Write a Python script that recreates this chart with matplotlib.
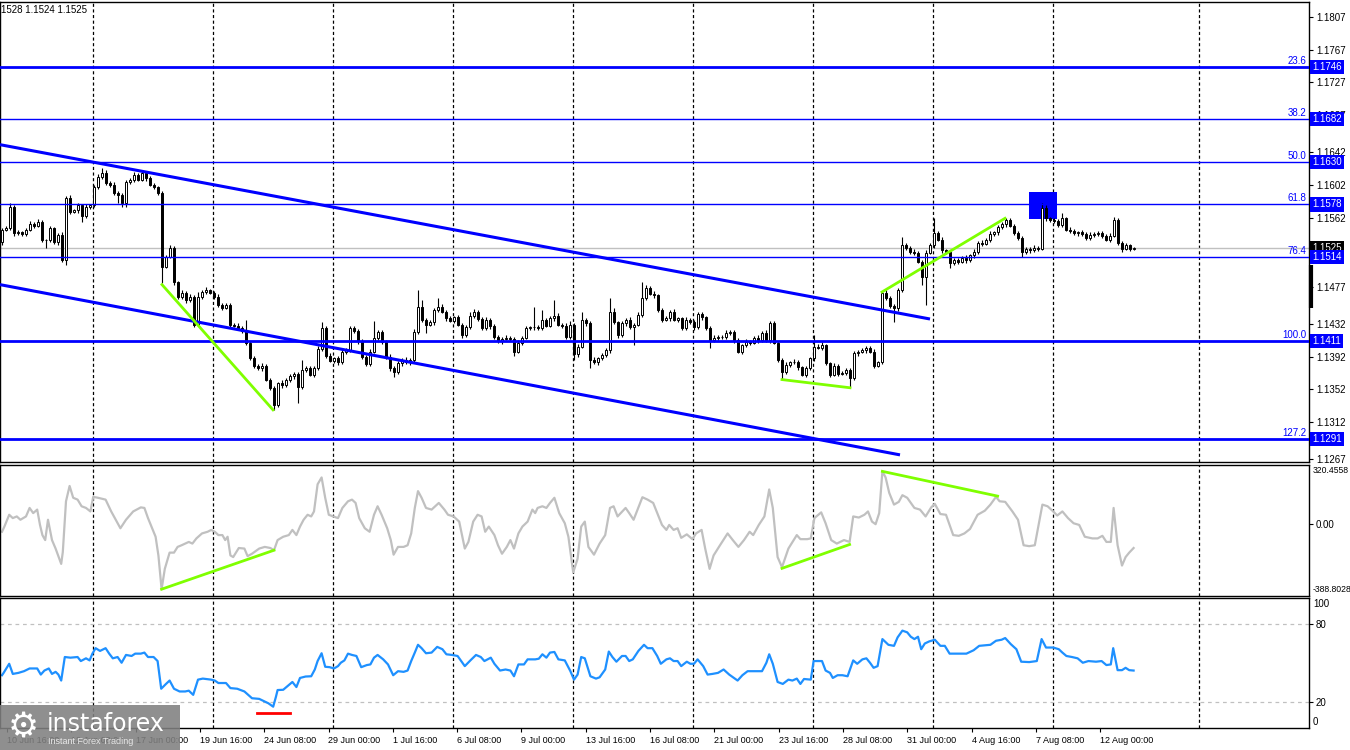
import numpy as np
import matplotlib
matplotlib.use("Agg")
import matplotlib.pyplot as plt
import matplotlib.transforms as mtransforms
from matplotlib.patches import Rectangle

plt.rcParams['font.family'] = ['Liberation Sans', 'DejaVu Sans']

# ---------------- data (EURUSD H4) ----------------
opens = [
    1.1532, 1.1547, 1.1549, 1.1575, 1.1543, 1.1544, 1.1542, 1.1547, 1.1554, 1.1552, 1.1557, 1.1535, 1.1534, 1.1549, 1.1532, 1.1541, 1.1510, 1.1586, 1.1569, 1.1571,
    1.1577, 1.1564, 1.1575, 1.1577, 1.1599, 1.1612, 1.1616, 1.1604, 1.1602, 1.1592, 1.1590, 1.1580, 1.1605, 1.1608, 1.1614, 1.1608, 1.1616, 1.1610, 1.1602, 1.1599,
    1.1592, 1.1502, 1.1514, 1.1525, 1.1483, 1.1465, 1.1470, 1.1461, 1.1465, 1.1431, 1.1465, 1.1471, 1.1473, 1.1470, 1.1465, 1.1455, 1.1452, 1.1455, 1.1431, 1.1430,
    1.1427, 1.1423, 1.1409, 1.1390, 1.1381, 1.1378, 1.1381, 1.1364, 1.1354, 1.1333, 1.1360, 1.1357, 1.1364, 1.1368, 1.1371, 1.1355, 1.1376, 1.1378, 1.1370, 1.1378,
    1.1401, 1.1427, 1.1393, 1.1387, 1.1390, 1.1385, 1.1398, 1.1400, 1.1427, 1.1423, 1.1411, 1.1392, 1.1383, 1.1398, 1.1415, 1.1422, 1.1410, 1.1392, 1.1378, 1.1373,
    1.1384, 1.1388, 1.1385, 1.1388, 1.1422, 1.1453, 1.1437, 1.1431, 1.1434, 1.1449, 1.1453, 1.1447, 1.1439, 1.1436, 1.1440, 1.1431, 1.1418, 1.1428, 1.1442, 1.1447,
    1.1438, 1.1427, 1.1437, 1.1430, 1.1416, 1.1411, 1.1414, 1.1415, 1.1414, 1.1398, 1.1409, 1.1415, 1.1427, 1.1428, 1.1428, 1.1427, 1.1437, 1.1430, 1.1439, 1.1442,
    1.1431, 1.1430, 1.1416, 1.1431, 1.1395, 1.1404, 1.1437, 1.1433, 1.1388, 1.1385, 1.1390, 1.1394, 1.1400, 1.1447, 1.1434, 1.1418, 1.1433, 1.1437, 1.1428, 1.1431,
    1.1443, 1.1464, 1.1476, 1.1469, 1.1467, 1.1449, 1.1437, 1.1439, 1.1447, 1.1437, 1.1439, 1.1427, 1.1437, 1.1434, 1.1428, 1.1444, 1.1440, 1.1427, 1.1412, 1.1415,
    1.1416, 1.1416, 1.1421, 1.1422, 1.1412, 1.1398, 1.1406, 1.1410, 1.1409, 1.1415, 1.1412, 1.1421, 1.1412, 1.1433, 1.1409, 1.1388, 1.1373, 1.1382, 1.1385, 1.1386,
    1.1379, 1.1370, 1.1378, 1.1390, 1.1404, 1.1403, 1.1406, 1.1384, 1.1370, 1.1381, 1.1371, 1.1372, 1.1376, 1.1366, 1.1396, 1.1398, 1.1400, 1.1403, 1.1398, 1.1381,
    1.1385, 1.1470, 1.1464, 1.1454, 1.1451, 1.1473, 1.1528, 1.1525, 1.1520, 1.1519, 1.1508, 1.1489, 1.1519, 1.1528, 1.1543, 1.1535, 1.1522, 1.1520, 1.1506, 1.1510,
    1.1508, 1.1513, 1.1510, 1.1516, 1.1520, 1.1531, 1.1530, 1.1535, 1.1542, 1.1544, 1.1550, 1.1554, 1.1559, 1.1552, 1.1543, 1.1537, 1.1520, 1.1524, 1.1522, 1.1525,
    1.1524, 1.1574, 1.1561, 1.1559, 1.1558, 1.1553, 1.1561, 1.1547, 1.1546, 1.1543, 1.1544, 1.1542, 1.1537, 1.1541, 1.1542, 1.1543, 1.1540, 1.1535, 1.1540, 1.1559,
    1.1531, 1.1524, 1.1528, 1.1524]

closes = [
    1.1547, 1.1549, 1.1575, 1.1543, 1.1544, 1.1542, 1.1547, 1.1554, 1.1552, 1.1557, 1.1535, 1.1534, 1.1549, 1.1532, 1.1541, 1.1510, 1.1586, 1.1569, 1.1571, 1.1577,
    1.1564, 1.1575, 1.1577, 1.1599, 1.1612, 1.1616, 1.1604, 1.1602, 1.1592, 1.1590, 1.1580, 1.1605, 1.1608, 1.1614, 1.1608, 1.1616, 1.1610, 1.1602, 1.1599, 1.1592,
    1.1502, 1.1514, 1.1525, 1.1483, 1.1465, 1.1470, 1.1461, 1.1465, 1.1431, 1.1465, 1.1471, 1.1473, 1.1470, 1.1465, 1.1455, 1.1452, 1.1455, 1.1431, 1.1430, 1.1427,
    1.1423, 1.1409, 1.1390, 1.1381, 1.1378, 1.1381, 1.1364, 1.1354, 1.1333, 1.1360, 1.1357, 1.1364, 1.1368, 1.1371, 1.1355, 1.1376, 1.1378, 1.1370, 1.1378, 1.1401,
    1.1427, 1.1393, 1.1387, 1.1390, 1.1385, 1.1398, 1.1400, 1.1427, 1.1423, 1.1411, 1.1392, 1.1383, 1.1398, 1.1415, 1.1422, 1.1410, 1.1392, 1.1378, 1.1373, 1.1384,
    1.1388, 1.1385, 1.1388, 1.1422, 1.1453, 1.1437, 1.1431, 1.1434, 1.1449, 1.1453, 1.1447, 1.1439, 1.1436, 1.1440, 1.1431, 1.1418, 1.1428, 1.1442, 1.1447, 1.1438,
    1.1427, 1.1437, 1.1430, 1.1416, 1.1411, 1.1414, 1.1415, 1.1414, 1.1398, 1.1409, 1.1415, 1.1427, 1.1428, 1.1428, 1.1427, 1.1437, 1.1430, 1.1439, 1.1442, 1.1431,
    1.1430, 1.1416, 1.1431, 1.1395, 1.1404, 1.1437, 1.1433, 1.1388, 1.1385, 1.1390, 1.1394, 1.1400, 1.1447, 1.1434, 1.1418, 1.1433, 1.1437, 1.1428, 1.1431, 1.1443,
    1.1464, 1.1476, 1.1469, 1.1467, 1.1449, 1.1437, 1.1439, 1.1447, 1.1437, 1.1439, 1.1427, 1.1437, 1.1434, 1.1428, 1.1444, 1.1440, 1.1427, 1.1412, 1.1415, 1.1416,
    1.1416, 1.1421, 1.1422, 1.1412, 1.1398, 1.1406, 1.1410, 1.1409, 1.1415, 1.1412, 1.1421, 1.1412, 1.1433, 1.1409, 1.1388, 1.1373, 1.1382, 1.1385, 1.1386, 1.1379,
    1.1370, 1.1378, 1.1390, 1.1404, 1.1403, 1.1406, 1.1384, 1.1370, 1.1381, 1.1371, 1.1372, 1.1376, 1.1366, 1.1396, 1.1398, 1.1400, 1.1403, 1.1398, 1.1381, 1.1385,
    1.1470, 1.1464, 1.1454, 1.1451, 1.1473, 1.1528, 1.1525, 1.1520, 1.1519, 1.1508, 1.1489, 1.1519, 1.1528, 1.1543, 1.1535, 1.1522, 1.1520, 1.1506, 1.1510, 1.1508,
    1.1513, 1.1510, 1.1516, 1.1520, 1.1531, 1.1530, 1.1535, 1.1542, 1.1544, 1.1550, 1.1554, 1.1559, 1.1552, 1.1543, 1.1537, 1.1520, 1.1524, 1.1522, 1.1525, 1.1524,
    1.1574, 1.1561, 1.1559, 1.1558, 1.1553, 1.1561, 1.1547, 1.1546, 1.1543, 1.1544, 1.1542, 1.1537, 1.1541, 1.1542, 1.1543, 1.1540, 1.1535, 1.1540, 1.1559, 1.1531,
    1.1524, 1.1528, 1.1524, 1.1525]

# wick lengths in pips above / below the candle body
upper_wick = [
    2, 3, 5, 2, 3, 1, 2, 4, 2, 3, 2, 1, 3, 2, 2, 3, 2, 3, 2, 3,
    2, 3, 2, 3, 3, 6, 4, 2, 3, 2, 2, 3, 2, 3, 2, 4, 2, 3, 2, 2,
    2, 2, 4, 2, 2, 3, 2, 3, 2, 6, 2, 4, 2, 2, 3, 2, 3, 2, 2, 3,
    2, 14, 2, 3, 2, 3, 2, 2, 2, 1, 3, 2, 3, 2, 2, 12, 3, 2, 3, 4,
    7, 2, 3, 2, 3, 4, 2, 3, 2, 3, 2, 2, 3, 20, 3, 2, 2, 3, 2, 3,
    2, 3, 2, 4, 20, 8, 2, 3, 2, 11, 3, 2, 3, 2, 3, 2, 3, 4, 3, 2,
    2, 3, 2, 2, 3, 2, 3, 2, 2, 3, 2, 3, 2, 25, 3, 12, 2, 3, 19, 3,
    2, 3, 4, 2, 3, 10, 2, 2, 3, 2, 3, 3, 17, 4, 2, 3, 2, 3, 2, 3,
    19, 4, 2, 3, 2, 2, 3, 2, 3, 2, 2, 3, 2, 3, 2, 3, 2, 2, 3, 2,
    2, 3, 2, 2, 3, 2, 3, 2, 2, 3, 2, 3, 3, 2, 2, 2, 3, 2, 3, 2,
    2, 3, 2, 14, 3, 4, 2, 2, 3, 2, 3, 2, 2, 3, 2, 3, 2, 2, 3, 2,
    1, 3, 2, 2, 3, 10, 3, 2, 3, 2, 2, 3, 3, 18, 2, 3, 2, 2, 3, 2,
    2, 3, 2, 3, 2, 3, 2, 3, 2, 3, 2, 2, 3, 2, 2, 3, 2, 2, 3, 2,
    6, 3, 2, 3, 2, 6, 2, 3, 2, 2, 3, 2, 3, 2, 2, 3, 2, 3, 4, 2,
    2, 3, 2, 1]

lower_wick = [
    3, 2, 2, 3, 2, 3, 2, 2, 3, 2, 3, 9, 2, 2, 3, 2, 6, 3, 2, 3,
    7, 2, 3, 2, 2, 3, 2, 3, 2, 10, 5, 5, 2, 3, 2, 2, 3, 2, 2, 3,
    20, 2, 2, 3, 3, 2, 3, 2, 3, 2, 3, 2, 2, 3, 2, 3, 2, 3, 2, 3,
    2, 3, 2, 3, 2, 3, 2, 3, 6, 2, 3, 2, 3, 3, 20, 2, 3, 2, 3, 2,
    2, 3, 2, 3, 3, 2, 3, 2, 2, 3, 3, 2, 3, 2, 3, 2, 3, 3, 6, 2,
    3, 2, 3, 2, 2, 3, 10, 2, 3, 2, 2, 3, 2, 3, 2, 3, 2, 2, 3, 2,
    3, 2, 4, 3, 2, 3, 2, 3, 5, 2, 3, 2, 2, 3, 2, 3, 2, 2, 3, 2,
    3, 2, 3, 7, 3, 2, 3, 10, 2, 3, 2, 2, 3, 2, 3, 2, 3, 2, 22, 2,
    2, 3, 2, 3, 2, 3, 2, 3, 2, 3, 2, 3, 2, 3, 2, 3, 2, 9, 2, 3,
    2, 3, 2, 3, 2, 3, 2, 3, 2, 3, 2, 2, 3, 2, 3, 10, 2, 3, 2, 3,
    2, 3, 2, 3, 2, 3, 2, 3, 2, 3, 2, 3, 12, 2, 3, 2, 3, 2, 3, 2,
    2, 3, 2, 17, 3, 2, 3, 2, 3, 2, 10, 34, 2, 3, 2, 3, 2, 6, 2, 3,
    2, 3, 2, 3, 2, 3, 2, 3, 2, 3, 2, 3, 2, 2, 3, 6, 2, 3, 2, 3,
    2, 3, 2, 3, 2, 3, 2, 3, 2, 3, 2, 3, 2, 3, 2, 3, 2, 3, 2, 3,
    4, 2, 3, 2]

current_price = 1.1525
price_ticks = [1.1807, 1.1767, 1.1727, 1.1687, 1.1642, 1.1602, 1.1562, 1.1522,
               1.1477, 1.1432, 1.1392, 1.1352, 1.1312, 1.1267]
hidden_ticks = [1.1522]   # covered by the price boxes in the original

fib_levels = [1.1746, 1.1682, 1.1630, 1.1578, 1.1514, 1.1411, 1.1291]
fib_names = ["23.6", "38.2", "50.0", "61.8", "76.4", "100.0", "127.2"]

# trend channel and divergence lines: (bar positions, prices)
channel_top = ([-0.5, 232.0], [1.1651, 1.1438])
channel_bottom = ([-0.5, 224.5], [1.1480, 1.1272])
price_green = [([40.0, 67.75], [1.1480, 1.1327]),
               ([195.0, 212.0], [1.1364, 1.1354]),
               ([220.0, 250.75], [1.1471, 1.1561])]
box_bars = [256.75, 263.75]
box_prices = [1.1560, 1.1593]

# CCI (gray)
cci_bars = [
    0, 0.6, 1.8, 2.7, 3.7, 4.6, 6.0, 6.9, 7.8, 8.8,
    9.5, 10.1, 10.8, 11.5, 12.5, 13.4, 14.8, 15.2, 16.0, 16.9,
    17.8, 18.9, 19.9, 21.0, 22.1, 22.8, 24.0, 25.9, 27.3, 28.2,
    29.6, 31.0, 32.8, 34.7, 35.6, 36.5, 38.4, 39.1, 39.9, 40.7,
    41.9, 43.0, 43.9, 44.9, 45.8, 46.7, 47.6, 48.6, 50.0, 51.4,
    52.3, 53.2, 54.1, 55.1, 55.8, 56.4, 57.1, 57.8, 59.2, 60.6,
    61.4, 62.5, 64.3, 65.7, 67.1, 68.0, 68.9, 70.3, 71.7, 72.6,
    73.6, 74.5, 75.4, 76.4, 77.3, 78.0, 78.9, 79.9, 80.8, 81.7,
    82.8, 84.0, 85.1, 86.5, 87.5, 88.4, 89.3, 90.7, 91.9, 93.0,
    93.9, 94.9, 96.3, 97.2, 97.9, 99.0, 100.4, 101.4, 102.3, 103.2,
    104.0, 104.9, 106.0, 107.4, 109.2, 110.6, 111.5, 112.9, 114.3, 115.7,
    116.6, 117.8, 118.9, 119.9, 120.8, 121.7, 123.1, 124.0, 125.0, 126.2,
    127.1, 128.0, 129.1, 130.1, 131.4, 132.6, 133.3, 133.9, 135.1, 136.1,
    137.0, 138.1, 139.3, 140.7, 141.6, 142.8, 143.9, 144.8, 145.7, 146.6,
    148.0, 149.4, 150.8, 152.0, 152.9, 153.9, 155.9, 156.8, 157.9, 160.1,
    161.4, 162.8, 165.0, 166.1, 166.8, 167.9, 168.9, 169.8, 171.2, 172.6,
    173.5, 174.9, 175.8, 176.9, 177.9, 179.5, 181.4, 182.7, 184.1, 185.5,
    186.9, 187.8, 189.2, 190.6, 191.8, 192.7, 193.9, 195.0, 196.6, 198.7,
    199.6, 201.3, 202.2, 203.1, 204.8, 205.9, 207.3, 208.7, 210.5, 211.9,
    212.8, 214.2, 215.6, 216.5, 217.5, 218.4, 219.3, 220.1, 220.9, 221.8,
    223.0, 224.2, 225.1, 226.3, 228.1, 229.5, 230.9, 232.3, 233.2, 234.6,
    236.0, 237.8, 239.2, 240.6, 242.0, 243.9, 245.7, 247.1, 248.5, 249.4,
    250.8, 252.6, 254.0, 255.4, 256.8, 258.2, 260.1, 261.4, 262.8, 263.8,
    265.1, 266.5, 267.9, 269.3, 270.7, 272.6, 273.9, 275.1, 276.1, 277.2,
    277.9, 278.9, 280.0, 280.9, 281.8, 282.9]
cci_vals = [
    -41, -13, 51, 33, 42, 24, 42, 88, 60, 79,
    -4, -59, -86, 24, -86, -132, -215, -151, 124, 207,
    143, 133, 97, 88, 69, 148, 143, 133, 69, 33,
    -22, 24, 69, 91, 88, 33, -68, -169, -352, -242,
    -154, -154, -123, -114, -105, -96, -105, -77, -50, -41,
    -31, -41, -59, -59, -86, -68, -169, -178, -129, -132,
    -173, -160, -132, -123, -129, -141, -86, -68, -59, -31,
    -59, -13, 24, 51, 42, 69, 216, 253, 143, 51,
    42, 33, 88, 124, 133, 115, 33, -22, -41, 51,
    97, 51, -22, -86, -165, -123, -123, -114, -50, 88,
    179, 143, 88, 79, 115, 79, 51, 42, 14, -132,
    -96, 14, 51, 42, -41, -13, -59, -114, -160, -123,
    -86, -132, -50, -13, 14, 79, 60, 88, 97, 88,
    115, 143, 60, 5, -68, -261, -187, -13, 14, -123,
    -165, -105, -59, 88, 97, 42, 88, 60, 24, 146,
    133, 115, -4, -31, -4, -31, -22, -74, -55, -81,
    -50, -31, -132, -242, -169, -114, -50, -86, -123, -86,
    -41, -59, -4, 42, 188, 88, -178, -233, -132, -59,
    -81, -81, -77, 33, 64, 5, -86, -105, -86, -96,
    42, 36, 51, 69, 14, 0, 60, 286, 253, 170,
    106, 121, 157, 143, 88, 79, 42, 91, 110, 55,
    51, -59, -63, -50, -26, 51, 73, 106, 148, 124,
    121, 69, 24, -114, -119, -114, 106, 97, 69, 47,
    69, 33, 5, -4, -68, -77, -77, -63, -96, -96,
    88, -114, -224, -178, -154, -129]
cci_top, cci_bottom = 320.4558, -388.8028
cci_green = [([39.9, 68.0], [-352, -141]),
             ([195.0, 211.9], [-239, -110]),
             ([220.1, 248.9], [286, 152])]

# RSI (blue)
rsi_bars = [
    0, 0.4, 1.8, 2.7, 4.1, 5.5, 6.9, 8.8, 9.7, 10.6,
    11.7, 12.5, 13.4, 14.1, 14.8, 15.7, 17.1, 18.9, 19.7, 21.0,
    21.9, 22.6, 23.4, 24.5, 25.9, 26.8, 27.7, 28.9, 29.9, 31.0,
    32.4, 33.3, 34.7, 35.6, 36.5, 37.9, 38.9, 39.8, 41.0, 41.9,
    43.0, 44.4, 45.8, 46.7, 47.8, 49.0, 50.2, 52.3, 53.2, 54.1,
    55.1, 56.0, 57.1, 58.8, 60.6, 62.5, 64.3, 65.7, 66.6, 67.8,
    68.5, 68.9, 70.3, 71.3, 72.6, 73.6, 74.5, 75.9, 77.3, 78.2,
    78.9, 79.9, 80.8, 81.9, 83.0, 84.0, 84.7, 85.6, 86.5, 87.5,
    88.6, 89.8, 91.2, 92.1, 93.0, 93.9, 95.3, 96.5, 97.8, 99.0,
    100.4, 101.4, 102.3, 103.2, 104.0, 104.9, 106.0, 107.4, 108.8, 110.1,
    111.1, 112.5, 113.9, 114.8, 115.7, 117.1, 118.5, 119.7, 120.6, 122.2,
    123.1, 124.5, 125.9, 127.1, 128.0, 129.1, 130.5, 131.4, 133.3, 134.2,
    135.1, 136.1, 137.0, 138.1, 139.1, 140.7, 142.1, 143.0, 143.9, 144.8,
    145.7, 147.1, 148.5, 149.4, 150.8, 151.7, 152.6, 153.6, 155.0, 155.9,
    156.8, 157.7, 159.1, 160.5, 161.4, 162.6, 163.8, 164.7, 166.1, 167.0,
    167.9, 168.9, 169.8, 171.2, 172.1, 173.0, 173.9, 175.3, 176.4, 177.6,
    179.0, 180.4, 181.8, 183.9, 185.1, 186.4, 188.3, 190.0, 191.1, 191.8,
    192.7, 193.9, 195.2, 196.6, 197.6, 198.7, 199.6, 200.5, 202.2, 202.9,
    205.0, 205.9, 207.0, 207.7, 208.9, 210.1, 211.4, 212.8, 213.8, 215.1,
    216.1, 217.0, 217.9, 218.9, 220.1, 221.6, 223.0, 223.9, 225.1, 226.3,
    227.2, 228.1, 229.0, 229.8, 230.7, 231.8, 233.2, 234.6, 235.7, 236.9,
    239.2, 241.1, 242.9, 244.3, 247.1, 248.5, 249.9, 250.8, 252.2, 253.6,
    254.8, 256.8, 258.7, 259.9, 261.0, 262.8, 264.2, 265.1, 266.1, 267.5,
    268.9, 270.2, 271.6, 273.5, 274.9, 276.1, 277.2, 277.8, 278.9, 280.0,
    280.9, 281.8, 282.9]
rsi_vals = [
    40.6, 42.4, 49.4, 41.6, 42.4, 43.7, 45.8, 45.8, 41.1, 44.2,
    45.8, 41.6, 43.2, 41.1, 36.5, 54.6, 54.1, 54.6, 51.5, 53.6,
    52.0, 57.2, 61.4, 59.3, 61.4, 57.2, 53.6, 54.6, 50.2, 56.2,
    55.4, 57.2, 57.2, 58.0, 54.6, 54.6, 51.5, 30.2, 33.9, 36.5,
    30.2, 28.1, 28.1, 28.7, 25.5, 37.2, 38.0, 37.2, 36.5, 34.6,
    34.6, 34.6, 30.7, 30.2, 28.1, 22.9, 22.4, 20.3, 19.0, 16.4,
    24.2, 29.2, 29.4, 32.0, 35.4, 31.5, 38.5, 39.6, 39.8, 45.0,
    51.5, 57.5, 47.1, 46.8, 45.8, 47.6, 50.2, 52.0, 57.2, 56.2,
    55.4, 46.8, 48.4, 48.9, 54.1, 56.2, 52.8, 48.9, 40.6, 43.7,
    43.2, 44.2, 51.5, 58.0, 64.0, 61.4, 57.5, 58.0, 62.4, 60.6,
    56.7, 56.2, 55.4, 51.5, 47.6, 52.0, 56.2, 54.6, 51.5, 54.1,
    49.4, 44.2, 45.0, 44.2, 39.8, 48.9, 48.9, 52.8, 52.8, 53.3,
    56.7, 54.1, 58.0, 58.5, 52.8, 52.0, 43.7, 37.2, 41.1, 54.6,
    53.6, 39.8, 38.0, 39.0, 45.0, 58.8, 54.6, 51.0, 55.4, 55.4,
    51.5, 52.8, 59.3, 64.0, 61.4, 61.4, 55.4, 49.4, 52.8, 53.6,
    51.5, 51.5, 47.6, 51.0, 49.4, 49.4, 52.8, 47.6, 41.1, 41.6,
    42.4, 45.0, 41.1, 36.5, 40.6, 43.7, 43.7, 43.7, 50.2, 56.7,
    49.4, 35.4, 33.9, 37.2, 36.5, 38.0, 33.9, 37.7, 37.2, 51.5,
    51.5, 44.2, 42.4, 38.5, 40.6, 40.6, 39.8, 52.0, 49.4, 52.8,
    53.6, 50.2, 46.3, 47.6, 68.4, 64.0, 63.2, 69.7, 74.9, 73.6,
    70.2, 68.4, 70.2, 60.6, 65.0, 66.6, 67.9, 63.2, 63.2, 57.2,
    57.2, 57.2, 59.8, 63.2, 64.0, 67.1, 67.9, 69.2, 64.5, 60.6,
    51.0, 50.7, 51.5, 68.4, 61.9, 61.9, 60.6, 58.0, 55.4, 54.6,
    53.6, 50.2, 51.5, 51.0, 51.5, 48.4, 48.9, 61.4, 44.5, 44.5,
    46.3, 44.5, 44.2]
rsi_levels = [20, 80]
rsi_red = ([63.75, 72.0], [11.5, 11.5])

time_labels = ["10 Jun 16:00", "12 Jun 08:00", "17 Jun 00:00", "19 Jun 16:00",
               "24 Jun 08:00", "29 Jun 00:00", "1 Jul 16:00", "6 Jul 08:00",
               "9 Jul 00:00", "13 Jul 16:00", "16 Jul 08:00", "21 Jul 00:00",
               "23 Jul 16:00", "28 Jul 08:00", "31 Jul 00:00", "4 Aug 16:00",
               "7 Aug 08:00", "12 Aug 00:00"]

assert len(opens) == len(closes) == len(upper_wick) == len(lower_wick)
assert len(cci_bars) == len(cci_vals) and len(rsi_bars) == len(rsi_vals)

# ---------------- layout ----------------
W, H = 1350, 750
BLUE = '#0000ff'
GREEN = '#7fff00'
pip = 0.0001


def panel(top, bottom, right=1309):
    return [0, 1 - bottom / H, right / W, (bottom - top) / H]


fig = plt.figure(figsize=(W / 100, H / 100), dpi=100, facecolor='white')
ax = fig.add_axes(panel(2, 462))
ax_cci = fig.add_axes(panel(465, 596))
ax_rsi = fig.add_axes(panel(598, 728))

xlim = (-0.5, 326.75)
grid_bars = [22.75 + 30 * k for k in range(9)] + [299.25]
for a in (ax, ax_cci, ax_rsi):
    a.set_xlim(*xlim)
    for s in a.spines.values():
        s.set_color('black')
        s.set_linewidth(1)
    for g in grid_bars:
        a.axvline(g, color='black', lw=0.9, ls=(0, (2.5, 2)), zorder=0.5)
    a.yaxis.tick_right()
    a.tick_params(axis='y', length=3, labelsize=7, pad=2, colors='black')
ax.set_xticks([])
ax_cci.set_xticks([])

# ---------------- price panel ----------------
ax.set_ylim(1.12633, 1.18253)
bars = np.arange(len(closes))
o = np.array(opens)
c = np.array(closes)
hi = np.maximum(o, c) + np.array(upper_wick) * pip
lo = np.minimum(o, c) - np.array(lower_wick) * pip

ax.add_patch(Rectangle((box_bars[0], box_prices[0]), box_bars[1] - box_bars[0],
                       box_prices[1] - box_prices[0], fc=BLUE, ec='none', zorder=1))
ax.axhline(current_price, color='#c0c0c0', lw=1, zorder=1.5)

ax.vlines(bars, lo, hi, color='black', lw=0.8, zorder=2)
up = c >= o
ax.bar(bars[up], (c - o)[up], bottom=o[up], width=0.6, facecolor='white',
       edgecolor='black', lw=0.7, zorder=3)
ax.bar(bars[~up], (o - c)[~up], bottom=c[~up], width=0.6, facecolor='black',
       edgecolor='black', lw=0.7, zorder=3)

thick = {1.1746, 1.1411, 1.1291}
for lvl, name in zip(fib_levels, fib_names):
    ax.axhline(lvl, color=BLUE, lw=2 if lvl in thick else 1, zorder=4)
    ax.annotate(name, (1.0, lvl), xycoords=('axes fraction', 'data'),
                xytext=(-3, 1), textcoords='offset pixels', ha='right', va='bottom',
                fontsize=7, color=BLUE)

ax.plot(*channel_top, color=BLUE, lw=2.2, zorder=4, solid_capstyle='butt')
ax.plot(*channel_bottom, color=BLUE, lw=2.2, zorder=4, solid_capstyle='butt')
for xs, ys in price_green:
    ax.plot(xs, ys, color=GREEN, lw=2, zorder=5)

ax.set_yticks(price_ticks)
ax.set_yticklabels(["" if p in hidden_ticks else f"{p:.4f}" for p in price_ticks])

trans = mtransforms.blended_transform_factory(ax.transAxes, ax.transData)
ax.text(1.0025, current_price, f"{current_price:.4f}", transform=trans, ha='left',
        va='center', fontsize=7, color='white', zorder=6, clip_on=False,
        bbox=dict(boxstyle='square,pad=0.22', fc='black', ec='none'))
for lvl in fib_levels:
    ax.text(1.0025, lvl, f"{lvl:.4f}", transform=trans, ha='left', va='center',
            fontsize=7, color='white', zorder=7, clip_on=False,
            bbox=dict(boxstyle='square,pad=0.22', fc=BLUE, ec='none'))
ax.plot([1.0012, 1.0012], [1.1452, 1.1504], transform=trans, color='black', lw=3,
        clip_on=False, solid_capstyle='butt')

ax.text(0.001, 0.983, "1528 1.1524 1.1525", transform=ax.transAxes, fontsize=7,
        va='center', ha='left')

# ---------------- CCI panel ----------------
ax_cci.set_ylim(cci_bottom, cci_top)
ax_cci.plot(cci_bars, cci_vals, color='#c0c0c0', lw=1.6, zorder=2)
for xs, ys in cci_green:
    ax_cci.plot(xs, ys, color=GREEN, lw=2, zorder=3)
ax_cci.set_yticks([0])
ax_cci.set_yticklabels(["0.00"])
ax_cci.text(1.0025, 0.955, f"{cci_top:.4f}", transform=ax_cci.transAxes, fontsize=6.2,
            va='center', ha='left', clip_on=False)
ax_cci.text(1.0025, 0.05, f"{cci_bottom:.4f}", transform=ax_cci.transAxes, fontsize=6.2,
            va='center', ha='left', clip_on=False)

# ---------------- RSI panel ----------------
ax_rsi.set_ylim(0, 100)
for lv in rsi_levels:
    ax_rsi.axhline(lv, color='#c0c0c0', lw=0.9, ls=(0, (3, 3)), zorder=1)
ax_rsi.plot(rsi_bars, rsi_vals, color='#1e90ff', lw=1.6, zorder=2)
ax_rsi.plot(*rsi_red, color='red', lw=2, zorder=3)
ax_rsi.set_yticks(rsi_levels)
ax_rsi.set_yticklabels([str(v) for v in rsi_levels])
ax_rsi.text(1.003, 0.955, "100", transform=ax_rsi.transAxes, fontsize=7, va='center',
            ha='left', clip_on=False)
ax_rsi.text(1.003, 0.045, "0", transform=ax_rsi.transAxes, fontsize=7, va='center',
            ha='left', clip_on=False)

label_bars = [1.25 + 16.075 * k for k in range(len(time_labels))]
ax_rsi.set_xticks(label_bars)
ax_rsi.set_xticklabels(time_labels, fontsize=6.5, ha='left')
ax_rsi.tick_params(axis='x', length=3, pad=3, direction='out')

# ---------------- watermark ----------------
fig.add_artist(Rectangle((0, 0), 180 / W, 45 / H, transform=fig.transFigure,
                         fc='#808080', ec='none', alpha=0.88, zorder=10))
fig.text(8 / W, 1 - 727 / H, "\u2699", fontsize=25, color='white', va='center',
         ha='left', family='DejaVu Sans', zorder=11)
fig.text(47 / W, 1 - 724 / H, "instaforex", fontsize=17, color='white', va='center',
         ha='left', family='DejaVu Sans', zorder=11)
fig.text(48 / W, 1 - 741 / H, "Instant Forex Trading", fontsize=6.5, color='#e8e8e8',
         va='center', ha='left', zorder=11)

fig.savefig("out.png", dpi=100, facecolor='white')
